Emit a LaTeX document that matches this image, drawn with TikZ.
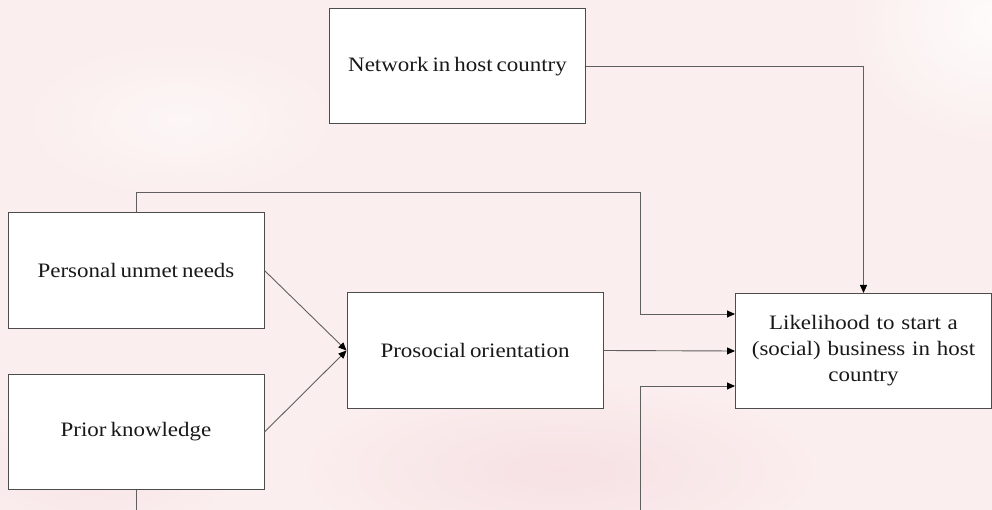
\documentclass[tikz,border=0pt]{standalone}
\usepackage{fontspec}
\setmainfont[FakeStretch=1.12,WordSpace=0.7]{Liberation Serif}
\usetikzlibrary{arrows.meta,calc}

\definecolor{paper}{RGB}{251,238,238}
\definecolor{blush}{RGB}{246,222,226}
\definecolor{wire}{RGB}{95,95,95}

\tikzset{
  box/.style={draw=wire!80!black, line width=1pt, fill=white,
              minimum width=256pt, minimum height=115pt,
              inner sep=0pt, align=center, text=black!90,
              font=\fontsize{20.5}{26}\selectfont},
  link/.style={draw=wire, line width=0.9pt,
               -{Triangle[length=8pt,width=7pt,black]}}
}

\begin{document}
\begin{tikzpicture}[x=1pt, y=-1pt]
  % page and washed background
  \useasboundingbox (0,0) rectangle (992,510);
  \clip (0,0) rectangle (992,510);
  \fill[paper] (0,0) rectangle (992,510);
  \shade[inner color=white, outer color=paper, opacity=0.8] (992,20) ellipse[x radius=150, y radius=130];
  \shade[inner color=blush, outer color=paper, opacity=0.8] (560,470) ellipse[x radius=260, y radius=90];
  \shade[inner color=blush, outer color=paper, opacity=0.6] (90,470) ellipse[x radius=140, y radius=70];
  \shade[inner color=white, outer color=paper, opacity=0.5] (180,120) ellipse[x radius=160, y radius=80];

  % factors
  \node[box] (net)   at (457.5, 66.5) {Network in host country};
  \node[box] (needs) at (136, 270.5) {Personal unmet needs};
  \node[box] (prior) at (136, 432) {Prior knowledge};
  \node[box] (pro)   at (475, 350.5) {Prosocial orientation};
  \node[box, text width=245pt] (like) at (863.5, 351)
        {Likelihood to start a\\(social) business in host\\country};

  % routing points
  \coordinate (topbend) at (640,192);
  \coordinate (lowbend) at (640,540);

  % connectors
  \draw[link] (net.east) -| (like.north);
  \draw[link] (needs.north) |- (topbend) |- ($(like.west)+(0,-37)$);
  \draw[link] (prior.south) |- (lowbend) |- ($(like.west)+(0,35)$);
  \draw[link] (needs.east) -- (pro.west);
  \draw[link] (prior.east) -- (pro.west);
  \draw[link] (pro.east) -- (like.west);
\end{tikzpicture}
\end{document}
